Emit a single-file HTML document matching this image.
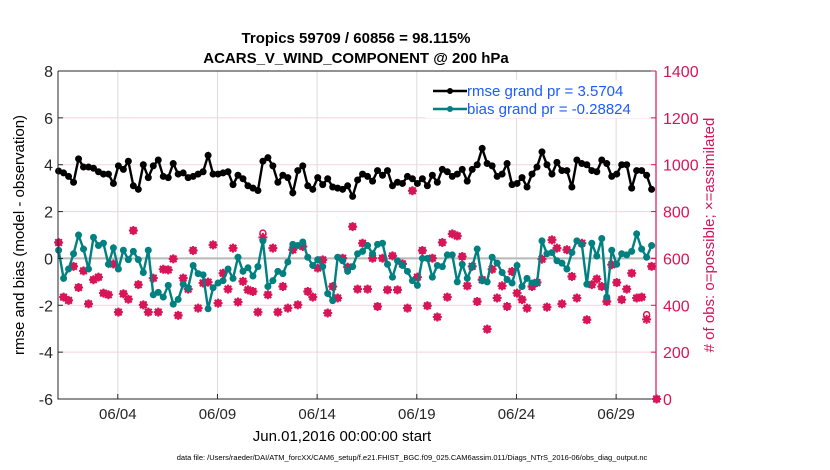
<!DOCTYPE html>
<html><head><meta charset="utf-8"><style>
body{margin:0;background:#fff;}
svg{display:block;font-family:"Liberation Sans",sans-serif;}
</style></head><body>
<svg id="chart" width="830" height="470" viewBox="0 0 830 470">
<text x="356" y="43" text-anchor="middle" font-size="15" font-weight="bold">Tropics 59709 / 60856 = 98.115%</text>
<text x="356" y="63" text-anchor="middle" font-size="15" font-weight="bold">ACARS_V_WIND_COMPONENT @ 200 hPa</text>
<g id="grid"></g>
<g id="marks"></g>
<g id="axes"></g>
<text transform="translate(24,235) rotate(-90)" text-anchor="middle" font-size="15">rmse and bias (model - observation)</text>
<text transform="translate(714,235) rotate(-90)" text-anchor="middle" font-size="15" fill="#d4145a"># of obs: o=possible; ×=assimilated</text>
<text x="342" y="441" text-anchor="middle" font-size="15">Jun.01,2016 00:00:00 start</text>
<text x="412" y="460" text-anchor="middle" font-size="7.5">data file: /Users/raeder/DAI/ATM_forcXX/CAM6_setup/f.e21.FHIST_BGC.f09_025.CAM6assim.011/Diags_NTrS_2016-06/obs_diag_output.nc</text>
<g>
<rect x="425" y="80" width="224" height="38" fill="#fff"/>
<line x1="433" y1="91" x2="467" y2="91" stroke="#000" stroke-width="2.5"/><circle cx="450" cy="91" r="3" fill="#000"/>
<text x="467" y="96" font-size="15" fill="#1a5cff">rmse grand pr = 3.5704</text>
<line x1="433" y1="109" x2="467" y2="109" stroke="#008080" stroke-width="2.5"/><circle cx="450" cy="109" r="3" fill="#008080"/>
<text x="467" y="114" font-size="15" fill="#1a5cff">bias grand pr = -0.28824</text>
</g>
</svg>
<script>
const rmse=[3.73,3.65,3.5,3.25,4.25,3.9,3.9,3.85,3.7,3.6,3.6,3.2,3.95,3.8,4.15,3.1,2.95,4.0,3.45,3.95,4.2,3.5,3.45,4.05,3.6,3.65,3.45,3.5,3.6,3.7,4.4,3.6,3.6,3.65,3.7,3.15,3.55,3.4,3.1,3.0,2.9,4.15,4.3,3.95,3.25,3.55,3.45,2.8,3.75,3.95,3.1,2.95,3.45,3.15,3.4,3.05,3.0,2.95,3.1,2.65,3.35,
3.6,3.5,3.3,3.75,3.55,3.75,3.1,3.25,3.2,3.5,3.4,3.2,3.4,3.1,3.55,3.25,3.8,3.7,3.5,3.6,3.8,3.3,3.8,4.0,4.7,4.05,3.95,3.5,3.6,4.05,3.15,3.2,3.45,3.05,3.6,3.9,4.55,4.0,3.6,4.1,3.75,3.75,3.05,4.2,4.05,4.0,3.75,3.7,4.2,4.05,3.5,3.6,4.0,4.0,3.0,3.75,3.75,3.55,2.95];
const bias=[0.35,-0.85,-0.45,0.2,1.0,0.4,-0.45,0.9,0.55,0.65,-0.25,0.45,-0.45,0.35,-0.05,0.3,-0.05,-0.6,0.35,-1.55,-1.45,-1.65,-1.15,-1.95,-1.75,-1.1,-1.25,-0.3,-0.65,-0.7,-2.15,-1.25,-1.05,-0.95,-0.45,-0.85,0.05,-0.55,-0.4,-0.75,-0.35,0.75,-1.2,-0.95,-0.55,-0.65,-0.15,0.6,0.55,0.7,0.05,-0.3,-0.05,-0.35,-1.5,-1.8,0.05,-0.1,-0.55,-0.35,0.2,
0.3,0.55,0.2,0.6,0.65,-0.25,-0.8,-0.1,-0.3,-0.55,-0.95,-1.15,0.0,0.0,-0.8,-0.3,-0.35,0.15,0.15,-1.0,-0.25,-0.85,-0.35,0.4,-0.95,-1.0,0.05,-0.2,-0.6,-0.9,-1.05,-0.3,-1.2,-0.85,-1.05,-1.05,0.75,0.2,0.25,-0.1,-0.2,-0.45,0.25,0.75,0.6,-1.1,0.65,0.1,0.85,-1.65,0.35,-0.25,0.2,0.15,0.3,1.05,0.4,0.05,0.55];
const possible=[668,435,421,566,476,547,406,509,520,452,445,576,371,449,426,719,488,402,371,516,371,554,551,598,357,516,469,634,388,495,499,658,409,537,469,644,414,502,466,459,371,708,445,644,371,480,388,637,402,651,459,435,559,594,367,480,431,601,563,736,469,
665,469,601,395,601,466,611,466,577,388,889,520,634,398,601,350,668,435,705,696,608,483,566,416,509,298,554,431,483,395,544,452,424,388,480,497,597,392,679,644,406,637,523,431,665,338,488,512,480,416,573,497,424,469,537,431,435,360,566,0];
const assimilated=[668,435,421,566,476,547,406,509,520,452,445,576,371,449,426,719,488,402,371,516,371,554,551,598,357,516,469,634,388,495,499,658,409,537,469,644,414,502,466,459,371,690,445,644,371,480,388,637,402,651,459,435,559,594,367,480,431,601,563,736,469,
665,469,601,395,601,466,611,466,577,388,889,520,634,398,601,350,668,435,705,696,608,483,566,416,509,298,554,431,483,395,544,452,424,388,480,497,597,392,679,644,406,637,523,431,665,338,488,512,480,416,573,497,424,469,537,431,435,340,566,0];
const leftTicks=[-6,-4,-2,0,2,4,6,8];
const rightTicks=[0,200,400,600,800,1000,1200,1400];
const xTickDays=[3,8,13,18,23,28];
const xTickLabels=['06/04','06/09','06/14','06/19','06/24','06/29'];
const stepDays=0.25;

const L=58,R=656,T=71,B=399;
const xS=d=>L+(R-L)*d/30;
const yL=v=>B-(B-T)*(v+6)/14;
const yR=v=>B-(B-T)*v/1400;
const NS='http://www.w3.org/2000/svg';
function mk(tag,attrs,parent){const e=document.createElementNS(NS,tag);for(const k in attrs)e.setAttribute(k,attrs[k]);parent.appendChild(e);return e;}
const grid=document.getElementById('grid'),marks=document.getElementById('marks'),axes=document.getElementById('axes');
leftTicks.forEach(v=>{const l=mk('line',{x1:L,x2:R,y1:yL(v),y2:yL(v),stroke:'#f3d3de','stroke-width':1},grid);

});
xTickDays.forEach(d=>{const l=mk('line',{x1:xS(d),x2:xS(d),y1:T,y2:B,stroke:'#dcdcdc','stroke-width':1},grid);

});
const z=mk('line',{x1:L,x2:R,y1:yL(0),y2:yL(0),stroke:'#b8b8b8','stroke-width':2},grid);


const pink='#d81557';
possible.forEach((v,i)=>{const x=xS(i*stepDays+0.03);
const c=mk('circle',{cx:x,cy:yR(v),r:3,fill:'#fff',stroke:pink,'stroke-width':1.5},marks);

});
assimilated.forEach((v,i)=>{const x=xS(i*stepDays+0.03),y=yR(v);
const g=mk('path',{d:`M${x-4.5} ${y}H${x+4.5}M${x} ${y-4.5}V${y+4.5}M${x-3.3} ${y-3.3}L${x+3.3} ${y+3.3}M${x-3.3} ${y+3.3}L${x+3.3} ${y-3.3}`,stroke:pink,'stroke-width':2,fill:'none'},marks);


const d=mk('circle',{cx:x,cy:y,r:3,fill:pink},marks);

});
function series(arr,color,name){
const pts=arr.map((v,i)=>xS(i*stepDays+0.03)+','+yL(v)).join(' ');
const p=mk('polyline',{points:pts,fill:'none',stroke:color,'stroke-width':2.4},marks);


arr.forEach((v,i)=>{const c=mk('circle',{cx:xS(i*stepDays+0.03),cy:yL(v),r:3.5,fill:color},marks);

});}
series(rmse,'#000','rmse');
series(bias,'#008080','bias');
const fr=mk('path',{d:`M${L} ${T}H${R}M${L} ${T}V${B}H${R}`,stroke:'#262626','stroke-width':1,fill:'none'},axes);


const ra=mk('line',{x1:R,x2:R,y1:T,y2:B,stroke:pink,'stroke-width':1.2},axes);


leftTicks.forEach(v=>{mk('line',{x1:L,x2:L+5,y1:yL(v),y2:yL(v),stroke:'#262626'},axes);
const t=mk('text',{x:L-5,y:yL(v)+6,'text-anchor':'end','font-size':16,fill:'#262626'},axes);t.textContent=v;

});
rightTicks.forEach(v=>{mk('line',{x1:R-5,x2:R,y1:yR(v),y2:yR(v),stroke:pink},axes);
const t=mk('text',{x:R+7,y:yR(v)+6,'font-size':16,fill:pink},axes);t.textContent=v;

});
xTickDays.forEach((d,i)=>{mk('line',{x1:xS(d),x2:xS(d),y1:B,y2:B-5,stroke:'#262626'},axes);
const t=mk('text',{x:xS(d),y:B+20,'text-anchor':'middle','font-size':15,fill:'#262626'},axes);t.textContent=xTickLabels[i];

});
</script>
</body></html>
